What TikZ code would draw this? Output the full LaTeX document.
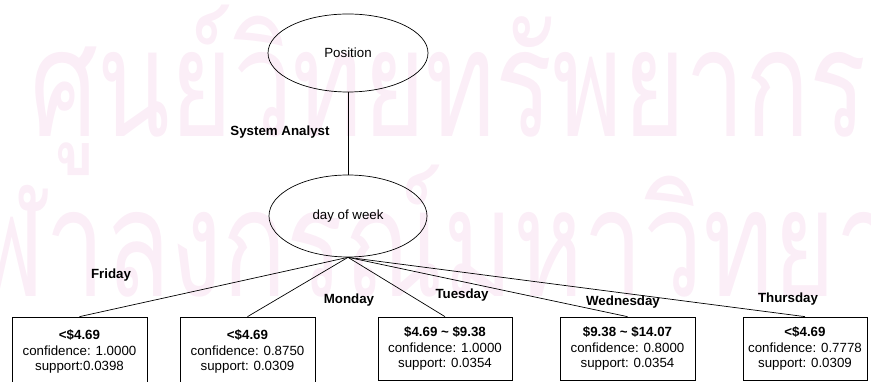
\documentclass[tikz,border=0pt]{standalone}
\usepackage{fontspec}
\usepackage{graphicx}
\setmainfont{Liberation Sans}
\newfontfamily\thaifont[Script=Thai]{Loma}
\usetikzlibrary{shapes.geometric}
\definecolor{wmark}{RGB}{251,238,247}
\tikzset{
  every node/.style={font=\fontsize{13.3}{15.5}\selectfont},
  oval/.style={ellipse, draw, line width=0.7pt, inner sep=0pt},
  leaf/.style={rectangle, draw, line width=0.7pt, fill=white, align=center, inner sep=0pt, minimum height=63pt},
  edgelbl/.style={font=\fontsize{13.3}{15.5}\selectfont\bfseries},
  wmtext/.style={anchor=base west, inner sep=0pt, text=wmark},
  conn/.style={line width=0.7pt},
}
\begin{document}
\begin{tikzpicture}[x=1pt,y=1pt]
\useasboundingbox (0,0) rectangle (871,382);
\begin{scope}
\clip (0,0) rectangle (871,382);
% watermark
\node[wmtext] (wm1) at (30,245)
  {\scalebox{0.71}[1]{\thaifont\fontsize{150}{150}\selectfont ศูนย์วิทยทรัพยากร}};
\node[wmtext] (wm2) at (-90,85)
  {\scalebox{0.71}[1]{\thaifont\fontsize{150}{150}\selectfont จุฬาลงกรณ์มหาวิทยาลัย}};

\node[oval, minimum width=160pt, minimum height=78pt] (pos) at (348,329) {Position};
\node[oval, minimum width=158pt, minimum height=82pt] (dow) at (348,166) {day of week};
\draw[conn] (pos.south) -- (dow.north);
\node[edgelbl] (sa) at (280,250) {System Analyst};

\node[leaf, minimum width=135pt, minimum height=69pt] (b1) at (79.5,30.5)
  {\textbf{<\$4.69}\\confidence: 1.0000\\support:0.0398};
\node[leaf, minimum width=135pt, minimum height=69pt] (b2) at (247.5,30.5)
  {\textbf{<\$4.69}\\confidence: 0.8750\\support: 0.0309};
\node[leaf, minimum width=134pt] (b3) at (445,33.5)
  {\textbf{\$4.69 \textasciitilde{} \$9.38}\\confidence: 1.0000\\support: 0.0354};
\node[leaf, minimum width=135pt] (b4) at (627.5,33.5)
  {\textbf{\$9.38 \textasciitilde{} \$14.07}\\confidence: 0.8000\\support: 0.0354};
\node[leaf, minimum width=124pt] (b5) at (805,33.5)
  {\textbf{<\$4.69}\\confidence: 0.7778\\support: 0.0309};

\foreach \b in {b1,b2,b3,b4,b5} \draw[conn] (dow.south) -- (\b.north);

\node[edgelbl] (l1) at (111,107) {Friday};
\node[edgelbl] (l2) at (349,82) {Monday};
\node[edgelbl] (l3) at (462,87) {Tuesday};
\node[edgelbl] (l4) at (623,80) {Wednesday};
\node[edgelbl] (l5) at (788,83) {Thursday};
\end{scope}
\end{tikzpicture}
\end{document}
